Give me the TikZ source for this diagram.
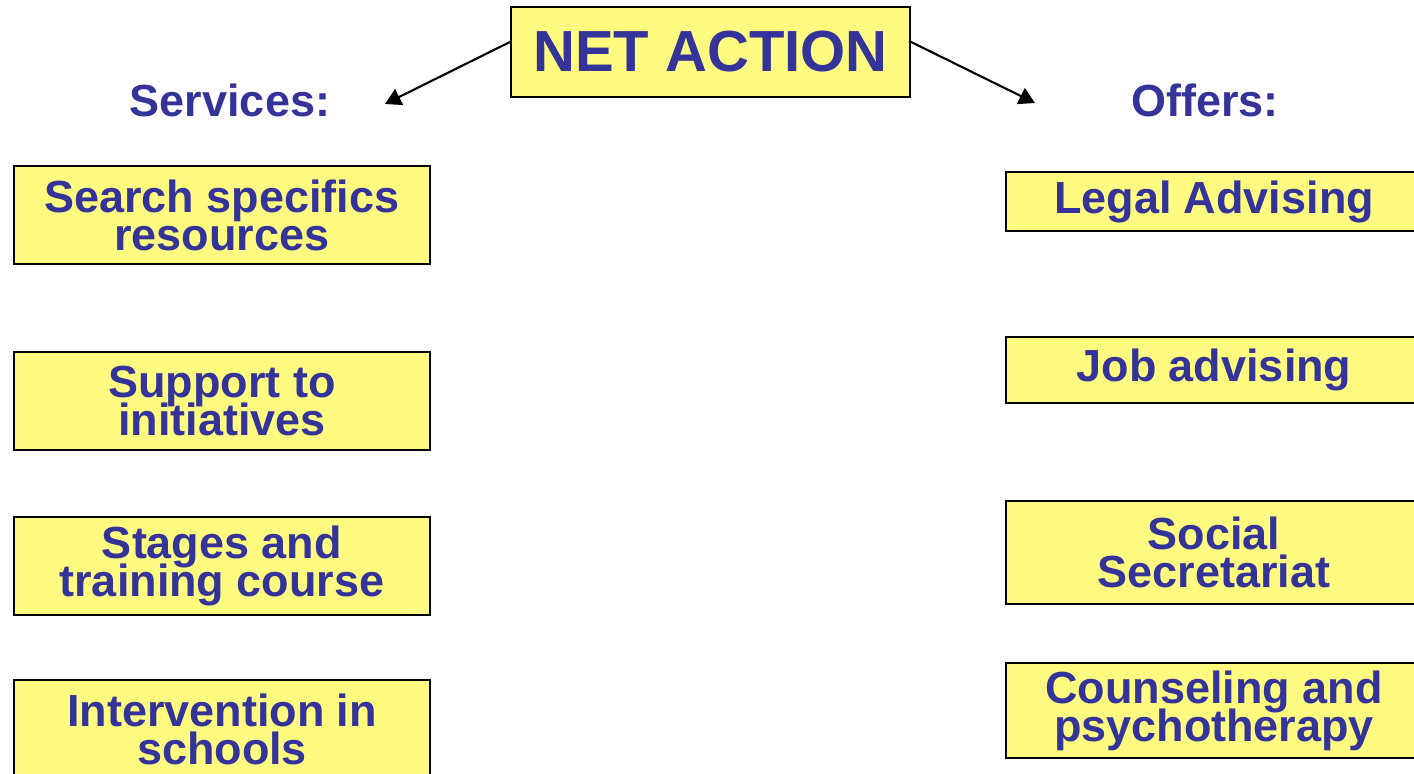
\documentclass[tikz,border=0pt]{standalone}
\usepackage{fontspec}
\setmainfont{Liberation Sans}
\usepackage{xcolor}
\usepackage{tikz}
\usetikzlibrary{positioning,arrows.meta}
\definecolor{netblue}{RGB}{51,51,153}
\definecolor{netyellow}{RGB}{255,250,128}
\newcommand{\tightlines}{\lineskiplimit=-20pt\relax}

\begin{document}
\begin{tikzpicture}[
	box/.style={draw=black, line width=0.6pt, fill=netyellow, text=netblue, inner sep=0pt,
		minimum width=4.16cm, align=center, font={\fontsize{12.8}{10.8}\selectfont\bfseries\tightlines}},
	head/.style={text=netblue, font=\fontsize{12.8}{10.8}\selectfont\bfseries},
	link/.style={line width=0.6pt, -{Triangle[width=5pt,length=4.5pt]}}]
	\useasboundingbox (0,0) rectangle (14.14,-7.74);
	\node[box, minimum width=3.99cm, minimum height=0.90cm, font=\fontsize{16.5}{18}\selectfont\bfseries] (net) at (7.105,-0.52) {NET ACTION};
	\node[head] (services) at (2.30,-1.00) {Services:};
	\node[head] (offers) at (12.05,-1.00) {Offers:};
	\coordinate (lefttip) at (3.85,-1.04);
	\coordinate (righttip) at (10.35,-1.03);
	\draw[link] ([yshift=0.10cm]net.west) -- (lefttip);
	\draw[link] ([yshift=0.11cm, xshift=-0.02cm]net.east) -- (righttip);
	\node[box, minimum height=0.98cm] (search) at (2.22,-2.15) {Search specifics\\resources};
	\node[box, minimum height=0.98cm] (support) at (2.22,-4.01) {Support to\\initiatives};
	\node[box, minimum height=0.98cm] (stages) at (2.22,-5.66) {Stages and\\training course};
	\node[box, minimum height=0.98cm] (schools) at (2.22,-7.29) {Intervention in\\schools};
	\node[box, minimum height=0.59cm] (legal) at (12.14,-2.015) {Legal Advising};
	\node[box, minimum height=0.66cm] (job) at (12.14,-3.70) {Job advising};
	\node[box, minimum height=1.03cm] (social) at (12.14,-5.525) {Social\\Secretariat};
	\node[box, minimum height=0.95cm] (counsel) at (12.14,-7.105) {Counseling and\\psychotherapy};
\end{tikzpicture}
\end{document}
